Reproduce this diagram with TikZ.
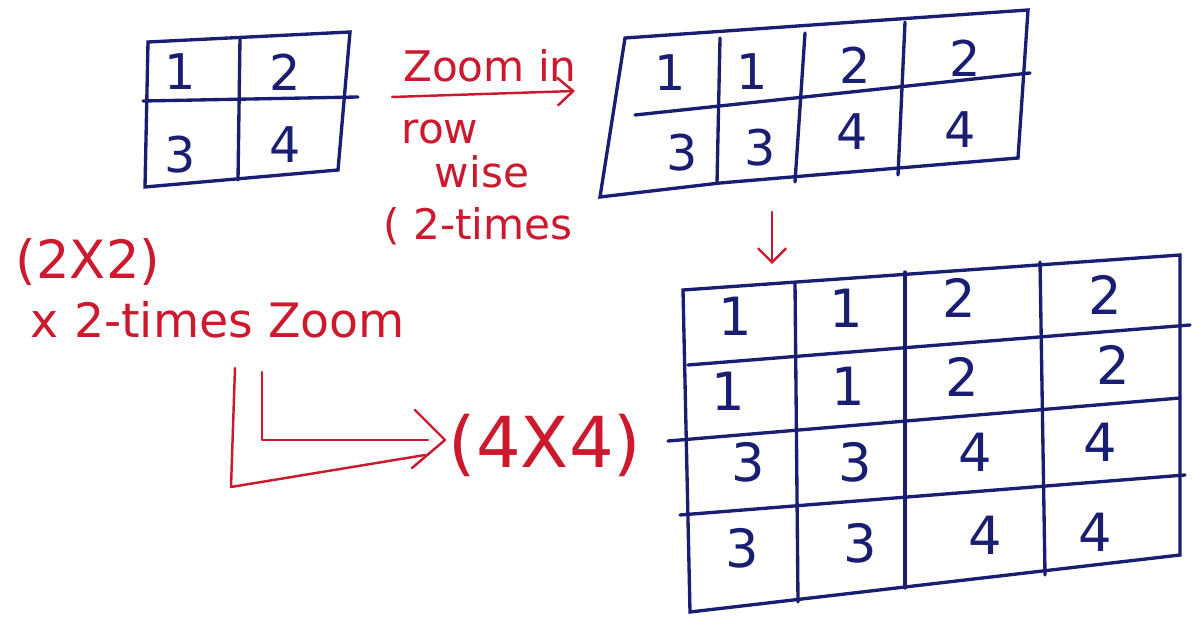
\documentclass[tikz,border=0pt]{standalone}
\usepackage{fontspec}
\setmainfont{DejaVu Sans}
\usetikzlibrary{arrows.meta}
\definecolor{inkblue}{RGB}{25,30,115}
\definecolor{inkred}{RGB}{205,25,45}
\begin{document}
\begin{tikzpicture}[x=0.02cm,y=-0.02cm,
    grid/.style={inkblue,line width=1.9pt,line cap=round},
    num/.style={inkblue,font=\fontsize{28}{28}\selectfont},
    note/.style={inkred,font=\fontsize{24}{26}\selectfont},
    redline/.style={inkred,line width=1.4pt,line cap=round,line join=round}]
  \useasboundingbox (0,0) rectangle (1195,617);

  % Draw the 2x2 grid
  \draw[grid] (148,42) -- (350,32) -- (338,170) -- (145,187) -- cycle;
  \draw[grid] (143,101) -- (358,97);
  \draw[grid] (240,38) -- (238,180);
  \foreach \x/\y/\t/\n in {180/72/1/a1, 285/72/2/a2, 180/155/3/a3, 285/145/4/a4} {
    \node[num] (\n) at (\x,\y) {\t};
  }

  % Draw the 2x4 grid
  \draw[grid] (625,38) -- (1028,10) -- (1018,158) -- (720,183) -- (600,197) -- cycle;
  \draw[grid] (635,115) -- (1030,73);
  \draw[grid] (720,38) -- (717,183);
  \draw[grid] (805,33) -- (795,182);
  \draw[grid] (905,22) -- (898,175);
  \foreach \x/\y/\t/\n in {670/73/1/b1, 752/72/1/b2, 855/65/2/b3, 965/58/2/b4,
                           682/153/3/b5, 760/148/3/b6, 852/132/4/b7, 960/130/4/b8} {
    \node[num] (\n) at (\x,\y) {\t};
  }

  % Draw the 4x4 grid
  \draw[grid] (683,290) -- (1180,255) -- (1180,555) -- (690,612) -- cycle;
  \draw[grid] (688,365) -- (1190,325);
  \draw[grid] (668,441) -- (1180,398);
  \draw[grid] (680,515) -- (1185,475);
  \draw[grid] (795,283) -- (798,602);
  \draw[grid] (905,272) -- (905,588);
  \draw[grid] (1040,262) -- (1045,575);
  \foreach \x/\y/\t/\n in {735/316/1/c1, 846/308/1/c2, 959/298/2/c3, 1105/295/2/c4,
                           728/391/1/c5, 848/386/1/c6, 962/377/2/c7, 1113/365/2/c8,
                           748/462/3/c9, 855/462/3/c10, 975/452/4/c11, 1100/442/4/c12,
                           742/548/3/c13, 860/543/3/c14, 985/535/4/c15, 1095/532/4/c16} {
    \node[num,font=\fontsize{30}{30}\selectfont] (\n) at (\x,\y) {\t};
  }

  % Add notes
  \node[note] (zoomin) at (490,66) {Zoom in};
  \node[note] (row) at (440,132) {row};
  \node[note] (wise) at (482,172) {wise};
  \node[note] (twotimes) at (478,226) {( 2-times};
  \node[note,font=\fontsize{30}{30}\selectfont] (sz) at (88,262) {(2X2)};
  \node[note,font=\fontsize{27}{28}\selectfont] (xzoom) at (218,320) {x 2-times Zoom};
  \node[note,font=\fontsize{40}{40}\selectfont] (bz) at (545,445) {(4X4)};

  % Draw arrows
  \coordinate (zs) at (392,97);
  \coordinate (ze) at (575,91);
  \draw[redline,-{Straight Barb[length=9pt,width=16pt]}] (zs) -- (ze);
  \coordinate (ds) at (772,212);
  \coordinate (de) at (772,264);
  \draw[redline,-{Straight Barb[length=8pt,width=16pt]}] (ds) -- (de);
  \coordinate (lo) at (235,368);
  \coordinate (li) at (262,372);
  \coordinate (tip) at (445,440);
  \draw[redline] (lo) -- (231,487) -- (425,455);
  \draw[redline] (li) -- (262,440) -- (428,440);
  \draw[redline] (415,410) -- (tip) -- (412,468);
\end{tikzpicture}
\end{document}
